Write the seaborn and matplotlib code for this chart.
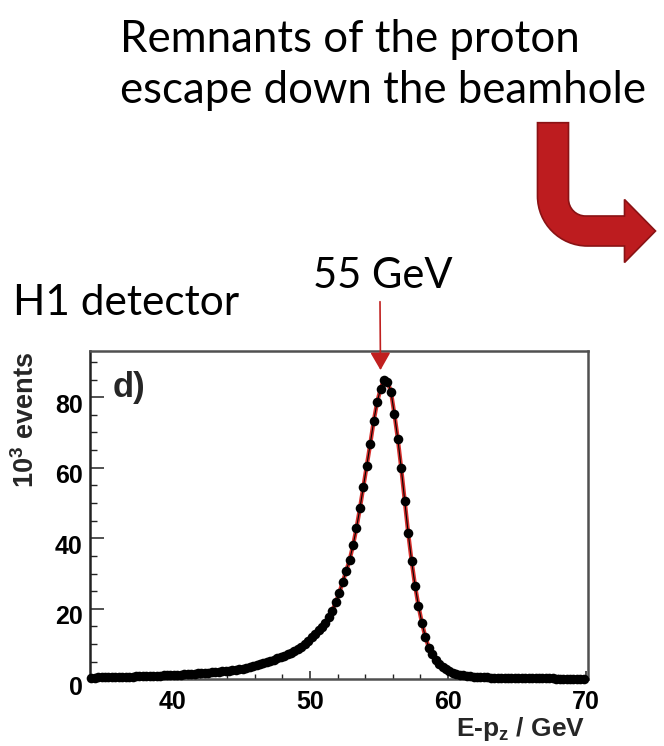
import numpy as np
import pandas as pd
import matplotlib
matplotlib.use("Agg")
import matplotlib.pyplot as plt
import seaborn as sns
from matplotlib.path import Path
from matplotlib.patches import PathPatch
from matplotlib.ticker import MultipleLocator, FixedLocator
import matplotlib.transforms as mtransforms

# ---------------- data ----------------
# E - p_z bin centres (0.25 GeV bins from 34 to 70 GeV)
bin_centres = np.arange(34.125, 70.0, 0.25)

# events per bin, in units of 10^3
events = [
    0.50, 0.51, 0.53, 0.55,   # 34
    0.57, 0.59, 0.61, 0.63,   # 35
    0.66, 0.68, 0.71, 0.74,   # 36
    0.77, 0.80, 0.83, 0.87,   # 37
    0.91, 0.95, 0.99, 1.03,   # 38
    1.07, 1.11, 1.15, 1.20,   # 39
    1.25, 1.30, 1.35, 1.40,   # 40
    1.46, 1.52, 1.58, 1.65,   # 41
    1.72, 1.80, 1.88, 1.97,   # 42
    2.06, 2.15, 2.25, 2.35,   # 43
    2.45, 2.57, 2.70, 2.82,   # 44
    2.95, 3.15, 3.40, 3.67,   # 45
    3.95, 4.25, 4.55, 4.87,   # 46
    5.20, 5.55, 5.90, 6.25,   # 47
    6.65, 7.10, 7.55, 8.05,   # 48
    8.60, 9.30, 10.1, 11.0,   # 49
    12.0, 12.9, 13.9, 14.9,   # 50
    16.1, 17.6, 19.5, 21.8,   # 51
    24.5, 27.6, 30.6, 33.8,   # 52
    38.0, 42.9, 48.5, 54.6,   # 53
    60.6, 66.8, 73.2, 78.6,   # 54
    82.4, 85.0, 84.4, 81.6,   # 55
    75.3, 68.2, 59.8, 50.6,   # 56
    41.6, 33.6, 26.6, 20.8,   # 57
    16.0, 12.0, 9.00, 7.20,   # 58
    5.60, 4.40, 3.50, 2.80,   # 59
    2.30, 1.90, 1.60, 1.35,   # 60
    1.15, 1.00, 0.88, 0.78,   # 61
    0.70, 0.64, 0.58, 0.54,   # 62
    0.50, 0.47, 0.44, 0.41,   # 63
    0.39, 0.37, 0.35, 0.33,   # 64
    0.32, 0.31, 0.30, 0.29,   # 65
    0.28, 0.27, 0.26, 0.25,   # 66
    0.24, 0.24, 0.23, 0.22,   # 67
    0.22, 0.21, 0.21, 0.20,   # 68
    0.20, 0.19, 0.19, 0.18,   # 69
]

x_ticks = [40, 50, 60, 70]
y_ticks = [0, 20, 40, 60, 80]
peak_position = 55.12   # GeV, where the "55 GeV" arrow points
peak_arrow_top = 87.7

df = pd.DataFrame({"Epz": bin_centres, "events": events})

# ---------------- style ----------------
sns.set_style("ticks")
plt.rcParams["font.family"] = ["Liberation Sans", "DejaVu Sans"]
plt.rcParams["mathtext.fontset"] = "custom"
plt.rcParams["mathtext.rm"] = "Liberation Sans:bold"
plt.rcParams["mathtext.bf"] = "Liberation Sans:bold"
plt.rcParams["mathtext.it"] = "Liberation Sans:bold"

W, H = 664, 746
fig = plt.figure(figsize=(W / 100, H / 100), dpi=100)
fig.patch.set_facecolor("white")

ax_l, ax_r, ax_t, ax_b = 89.5, 588.3, 350.7, 679.3
ax = fig.add_axes([ax_l / W, 1 - ax_b / H, (ax_r - ax_l) / W, (ax_b - ax_t) / H])

# red fit curve + data points
sns.lineplot(data=df, x="Epz", y="events", ax=ax, color="#d8312e", lw=3.0,
             zorder=2, legend=False)
sns.lineplot(data=df, x="Epz", y="events", ax=ax, color="black", lw=0.8,
             zorder=3, legend=False)
sns.scatterplot(data=df, x="Epz", y="events", ax=ax, color="black", s=48,
                linewidth=0, zorder=4, legend=False)
ax.collections[-1].set_clip_on(False)

ax.set_xlim(34, 70.2)
ax.set_ylim(0, 93.2)

ax.xaxis.set_major_locator(FixedLocator(x_ticks))
ax.xaxis.set_minor_locator(MultipleLocator(2))
ax.yaxis.set_major_locator(FixedLocator(y_ticks))
ax.yaxis.set_minor_locator(MultipleLocator(5))

ax.tick_params(axis="x", which="major", direction="in", length=6, width=1.1,
               pad=8, labelsize=18, colors="#222222", labelcolor="black")
ax.tick_params(axis="x", which="minor", direction="in", length=3.5, width=1.0,
               colors="#222222")
ax.tick_params(axis="y", which="major", direction="in", length=10, width=1.1,
               pad=5, labelsize=18, colors="#222222", labelcolor="black")
ax.tick_params(axis="y", which="minor", direction="in", length=5, width=1.0,
               colors="#222222")
ax.tick_params(top=False, right=False, which="both")

for lab in ax.get_xticklabels() + ax.get_yticklabels():
    lab.set_fontweight("bold")
offset = mtransforms.ScaledTranslation(0, -6 / 100, fig.dpi_scale_trans)
for lab in ax.get_yticklabels():
    lab.set_transform(lab.get_transform() + offset)

for side, sp in ax.spines.items():
    sp.set_visible(True)
    sp.set_color("#505050")
    sp.set_linewidth(1.8)
ax.spines["left"].set_color("#222222")

ax.set_xlabel("E-p$_\\mathbf{z}$ / GeV", fontsize=19, fontweight="bold",
              loc="right")
ax.xaxis.set_label_coords(0.994, -0.11)
ax.set_ylabel("10$^\\mathbf{3}$ events", fontsize=19.5, fontweight="bold",
              loc="top")
ax.yaxis.set_label_coords(-0.10, 0.995)

ax.text(0.047, 0.86, "d)", transform=ax.transAxes, fontsize=25,
        fontweight="bold", ha="left", va="baseline")

# arrow pointing at the peak
arrow_red = "#c0201f"
ax.annotate("", xy=(peak_position, peak_arrow_top),
            xytext=(380 / W, 1 - 301.7 / H), textcoords="figure fraction",
            arrowprops=dict(arrowstyle="-|>,head_length=0.54,head_width=0.31",
                            mutation_scale=20, color=arrow_red, lw=1.2,
                            shrinkA=0, shrinkB=0),
            annotation_clip=False)

# ---------------- annotation texts ----------------
txt_font = ["Lato", "DejaVu Sans"]
fig.text(120 / W, 1 - 52 / H, "Remnants of the proton", family=txt_font,
         fontsize=31.5, ha="left", va="baseline", color="black")
fig.text(120 / W, 1 - 103 / H, "escape down the beamhole", family=txt_font,
         fontsize=31.5, ha="left", va="baseline", color="black")
fig.text(12.8 / W, 1 - 315 / H, "H1 detector", family=txt_font,
         fontsize=30.5, ha="left", va="baseline", color="black")
fig.text(313 / W, 1 - 288.3 / H, "55 GeV", family=txt_font,
         fontsize=30, ha="left", va="baseline", color="black")

# ---------------- big bent arrow (pixel coordinates, y down) ----------------
k = 0.5523
ri, ro = 17.0, 50.0
xl, xr, ytop = 537.5, 568.5, 122.7
yh_t, yh_b = 216.0, 246.0
xb, yhead_t, yhead_b, xtip, ytip = 624.5, 199.5, 262.5, 655.5, 231.0
verts = [
    (xl, ytop), (xr, ytop), (xr, yh_t - ri),
    (xr, yh_t - ri + k * ri), (xr + ri - k * ri, yh_t), (xr + ri, yh_t),
    (xb, yh_t), (xb, yhead_t), (xtip, ytip), (xb, yhead_b), (xb, yh_b),
    (xl + ro, yh_b),
    (xl + ro - k * ro, yh_b), (xl, yh_b - ro + k * ro), (xl, yh_b - ro),
    (xl, ytop),
]
codes = [Path.MOVETO, Path.LINETO, Path.LINETO,
         Path.CURVE4, Path.CURVE4, Path.CURVE4,
         Path.LINETO, Path.LINETO, Path.LINETO, Path.LINETO, Path.LINETO,
         Path.LINETO,
         Path.CURVE4, Path.CURVE4, Path.CURVE4,
         Path.CLOSEPOLY]
pix = mtransforms.Affine2D().scale(1 / W, -1 / H).translate(0, 1) + fig.transFigure
patch = PathPatch(Path(verts, codes), facecolor="#bd1c1f", edgecolor="#8a1214",
                  lw=1.2, transform=pix)
fig.patches.append(patch)

fig.savefig("out.png", dpi=100, facecolor="white")
